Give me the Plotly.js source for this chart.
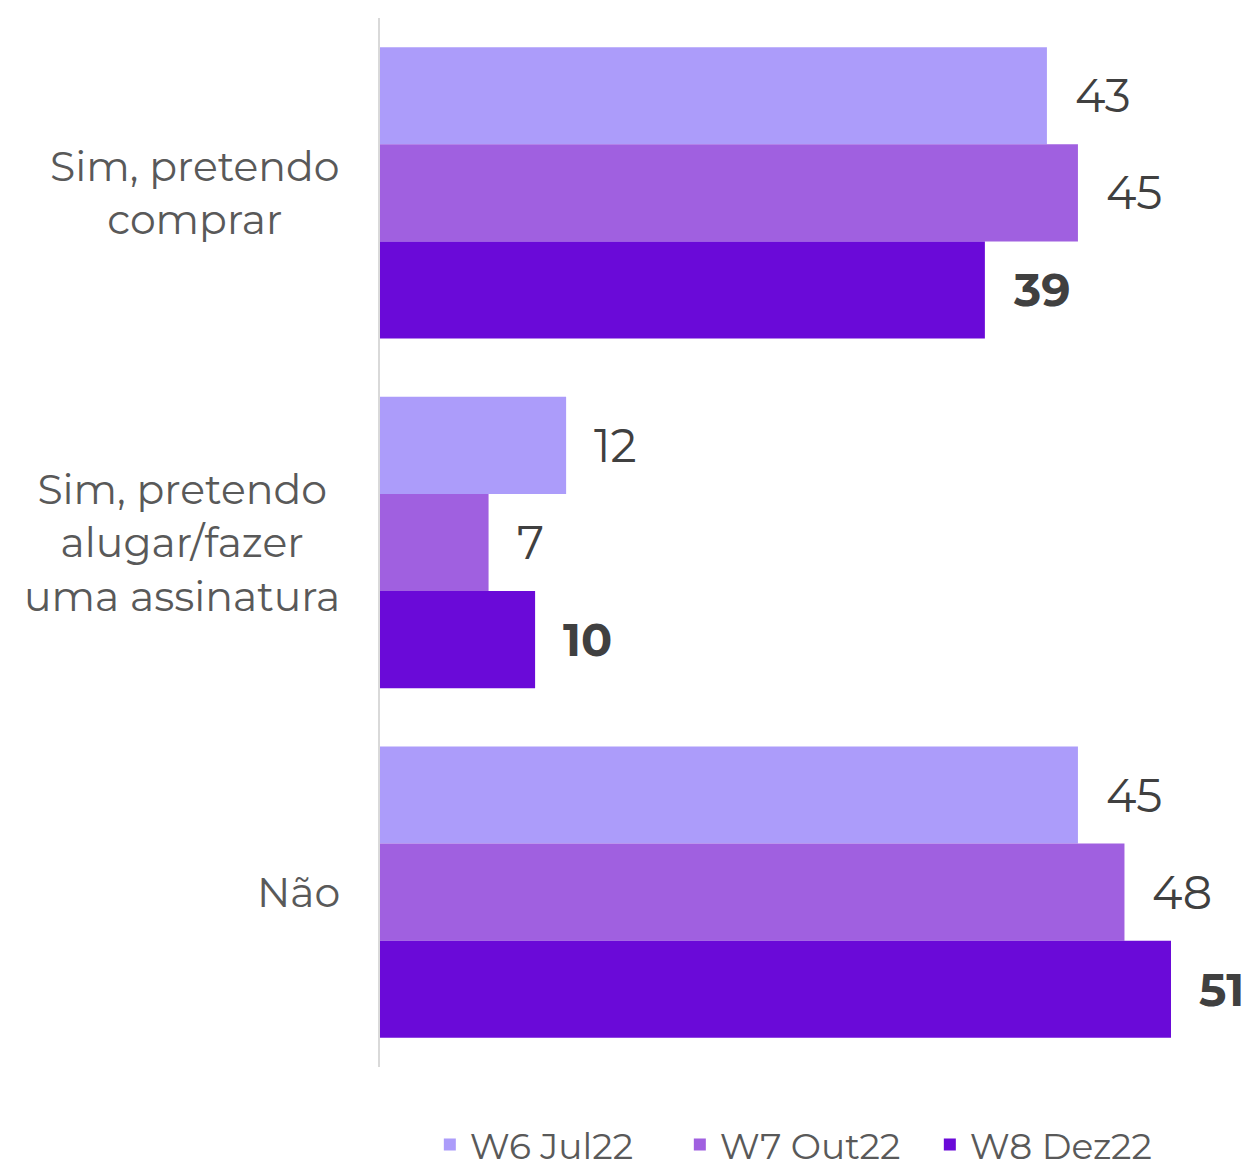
<!DOCTYPE html>
<html>
<head>
<meta charset="utf-8">
<script src="https://cdn.plot.ly/plotly-3.0.1.min.js"></script>
<style>html,body{margin:0;padding:0;background:#fff;}#chart{width:1247px;height:1168px;}</style>
</head>
<body>
<div id="chart"></div>
<script>
const categories = ["Sim, pretendo<br>comprar", "Sim, pretendo<br>alugar/fazer<br>uma assinatura", "Não"];
const seriesNames = ["W6 Jul22", "W7 Out22", "W8 Dez22"];
const w6 = [43, 12, 45];
const w7 = [45, 7, 48];
const w8 = [39, 10, 51];
const seriesValues = [w6, w7, w8];
const colors = ["#AC9CFA", "#A060E0", "#6A0AD8"];
const boldSeries = [false, false, true];

const bargap = 0.167;
const barWidth = (1 - bargap) / 3;
const catIdx = categories.map((c, i) => i);

const traces = seriesValues.map((vals, i) => ({
  type: 'bar',
  orientation: 'h',
  name: seriesNames[i],
  x: vals,
  y: catIdx,
  marker: {color: colors[i]},
  hoverinfo: 'x+name'
}));

const annotations = [];
seriesValues.forEach((vals, i) => {
  vals.forEach((v, j) => {
    annotations.push({
      x: v, y: catIdx[j] + (i - 1) * barWidth,
      xref: 'x', yref: 'y',
      text: String(v),
      showarrow: false,
      xanchor: 'left', yanchor: 'middle',
      xshift: 26,
      font: {family: 'Montserrat, "Open Sans", sans-serif', size: 46, color: '#404040', weight: boldSeries[i] ? 'bold' : 'normal'}
    });
  });
});
categories.forEach((c, j) => {
  annotations.push({
    x: 0, y: catIdx[j], xref: 'paper', yref: 'y',
    text: c, showarrow: false,
    xanchor: 'right', yanchor: 'middle', align: 'center',
    xshift: -38,
    font: {family: 'Montserrat, "Open Sans", sans-serif', size: 41, color: '#595959'}
  });
});

const layout = {
  width: 1247, height: 1168,
  margin: {l: 380, r: 0, t: 18, b: 101},
  paper_bgcolor: '#fff', plot_bgcolor: '#fff',
  barmode: 'group', bargap: bargap, bargroupgap: 0,
  showlegend: true,
  legend: {
    orientation: 'h', x: 0.49, xanchor: 'center',
    yref: 'container', y: 0.02, yanchor: 'middle',
    entrywidth: 205, entrywidthmode: 'pixels',
    font: {family: 'Montserrat, "Open Sans", sans-serif', size: 36, color: '#595959'},
    traceorder: 'normal', itemclick: false
  },
  xaxis: {range: [0, 55.9], visible: false, showgrid: false, zeroline: false, fixedrange: true},
  yaxis: {
    range: [2.5, -0.5], showticklabels: false, showgrid: false, zeroline: false,
    showline: true, linecolor: '#D9D9D9', linewidth: 2, ticks: '', fixedrange: true
  },
  annotations: annotations
};

Plotly.newPlot('chart', traces, layout, {displayModeBar: false, staticPlot: true});
</script>
</body>
</html>
